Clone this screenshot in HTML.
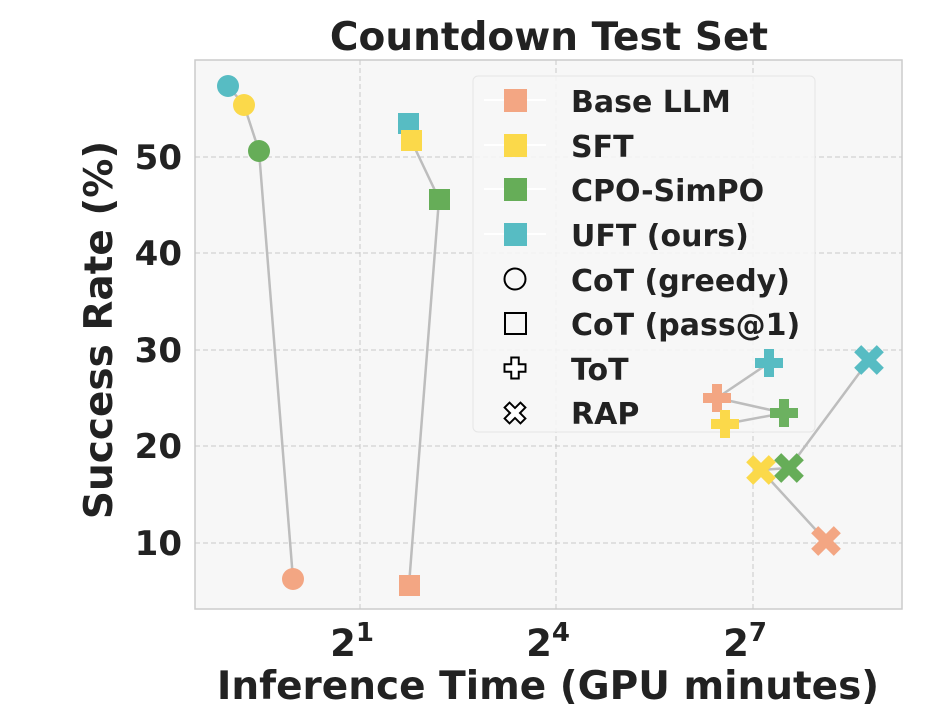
<!DOCTYPE html>
<html><head><meta charset="utf-8"><style>body{margin:0;background:#fff}svg{display:block}</style></head><body>
<svg width="926" height="720" xmlns="http://www.w3.org/2000/svg" font-family="'DejaVu Sans','Liberation Sans',sans-serif" font-weight="bold">
<defs>
<path id="plus" d="M-5,-14H5V-5H14V5H5V14H-5V5H-14V-5H-5Z"/>
<path id="cross" transform="rotate(45)" d="M-5,-16H5V-5H16V5H5V16H-5V5H-16V-5H-5Z"/>
</defs>
<rect x="195" y="60" width="707" height="549" fill="#f7f7f7" stroke="#cccccc" stroke-width="1.5"/>
<g stroke="#c8c8c8" stroke-width="1" stroke-dasharray="5,3">
<line x1="360" y1="60" x2="360" y2="609"/><line x1="556" y1="60" x2="556" y2="609"/><line x1="753" y1="60" x2="753" y2="609"/>
<line x1="195" y1="157" x2="902" y2="157"/><line x1="195" y1="253" x2="902" y2="253"/><line x1="195" y1="350" x2="902" y2="350"/><line x1="195" y1="446" x2="902" y2="446"/><line x1="195" y1="543" x2="902" y2="543"/>
</g>
<text x="549" y="50" font-size="39" text-anchor="middle" fill="#222">Countdown Test Set</text>
<g font-size="34" fill="#222" text-anchor="end">
<text x="182" y="169">50</text><text x="182" y="265">40</text><text x="182" y="362">30</text><text x="182" y="458">20</text><text x="182" y="555">10</text>
</g>
<g font-size="37" fill="#222" text-anchor="middle">
<text x="352" y="656">2<tspan font-size="26" dy="-15">1</tspan></text>
<text x="548" y="656">2<tspan font-size="26" dy="-15">4</tspan></text>
<text x="745" y="656">2<tspan font-size="26" dy="-15">7</tspan></text>
</g>
<text x="548" y="699" font-size="39" text-anchor="middle" fill="#222">Inference Time (GPU minutes)</text>
<text transform="translate(112,330) rotate(-90)" font-size="39" text-anchor="middle" fill="#222">Success Rate (%)</text>
<rect x="473" y="76" width="342" height="356" rx="5" fill="#f7f7f7" fill-opacity="0.85" stroke="#e6e6e6"/>
<g stroke="#fff" stroke-width="2"><line x1="484" y1="100" x2="546" y2="100"/><line x1="484" y1="145" x2="546" y2="145"/><line x1="484" y1="189" x2="546" y2="189"/><line x1="484" y1="234" x2="546" y2="234"/></g>
<rect x="504" y="89" width="23" height="23" fill="#f3a683"/><rect x="504" y="134" width="23" height="23" fill="#fbd94a"/><rect x="504" y="178" width="23" height="23" fill="#66ad58"/><rect x="504" y="223" width="23" height="23" fill="#57bcc3"/>
<circle cx="515" cy="279" r="10.5" fill="none" stroke="#000" stroke-width="2"/>
<rect x="505" y="313" width="21" height="21" fill="none" stroke="#000" stroke-width="2"/>
<g transform="translate(515,368) scale(0.75)"><use href="#plus" fill="#fff" stroke="#000" stroke-width="2.6"/></g>
<g transform="translate(515,413) scale(0.7)"><use href="#cross" fill="#fff" stroke="#000" stroke-width="2.8"/></g>
<g font-size="30" fill="#222">
<text x="571" y="112">Base LLM</text><text x="571" y="157">SFT</text><text x="571" y="201">CPO-SimPO</text><text x="571" y="246">UFT (ours)</text>
<text x="571" y="291">CoT (greedy)</text><text x="571" y="335">CoT (pass@1)</text><text x="571" y="380">ToT</text><text x="571" y="424">RAP</text>
</g>
<g stroke="#bdbdbd" stroke-width="2.5" fill="none">
<polyline points="228,86 244,105 259,151 293,579"/>
<polyline points="408,123 411,140 439,199 409,585"/>
<polyline points="769,363 717,398 784,413 725,424"/>
<polyline points="869,360 789,468 761,470 826,541"/>
</g>
<circle cx="228" cy="86" r="11" fill="#57bcc3"/><circle cx="244" cy="105" r="11" fill="#fbd94a"/><circle cx="259" cy="151" r="11" fill="#66ad58"/><circle cx="293" cy="579" r="11" fill="#f3a683"/>
<rect x="398" y="113" width="21" height="21" fill="#57bcc3"/><rect x="401" y="130" width="21" height="21" fill="#fbd94a"/><rect x="429" y="189" width="21" height="21" fill="#66ad58"/><rect x="399" y="575" width="21" height="21" fill="#f3a683"/>
<use href="#plus" x="769" y="363" fill="#57bcc3"/><use href="#plus" x="717" y="398" fill="#f3a683"/><use href="#plus" x="784" y="413" fill="#6cb160"/><use href="#plus" x="725" y="424" fill="#fbd94a"/>
<use href="#cross" x="869" y="360" fill="#57bcc3"/><use href="#cross" x="789" y="468" fill="#66ad58"/><use href="#cross" x="761" y="470" fill="#fbd94a"/><use href="#cross" x="826" y="541" fill="#f3a683"/>
</svg>
</body></html>
